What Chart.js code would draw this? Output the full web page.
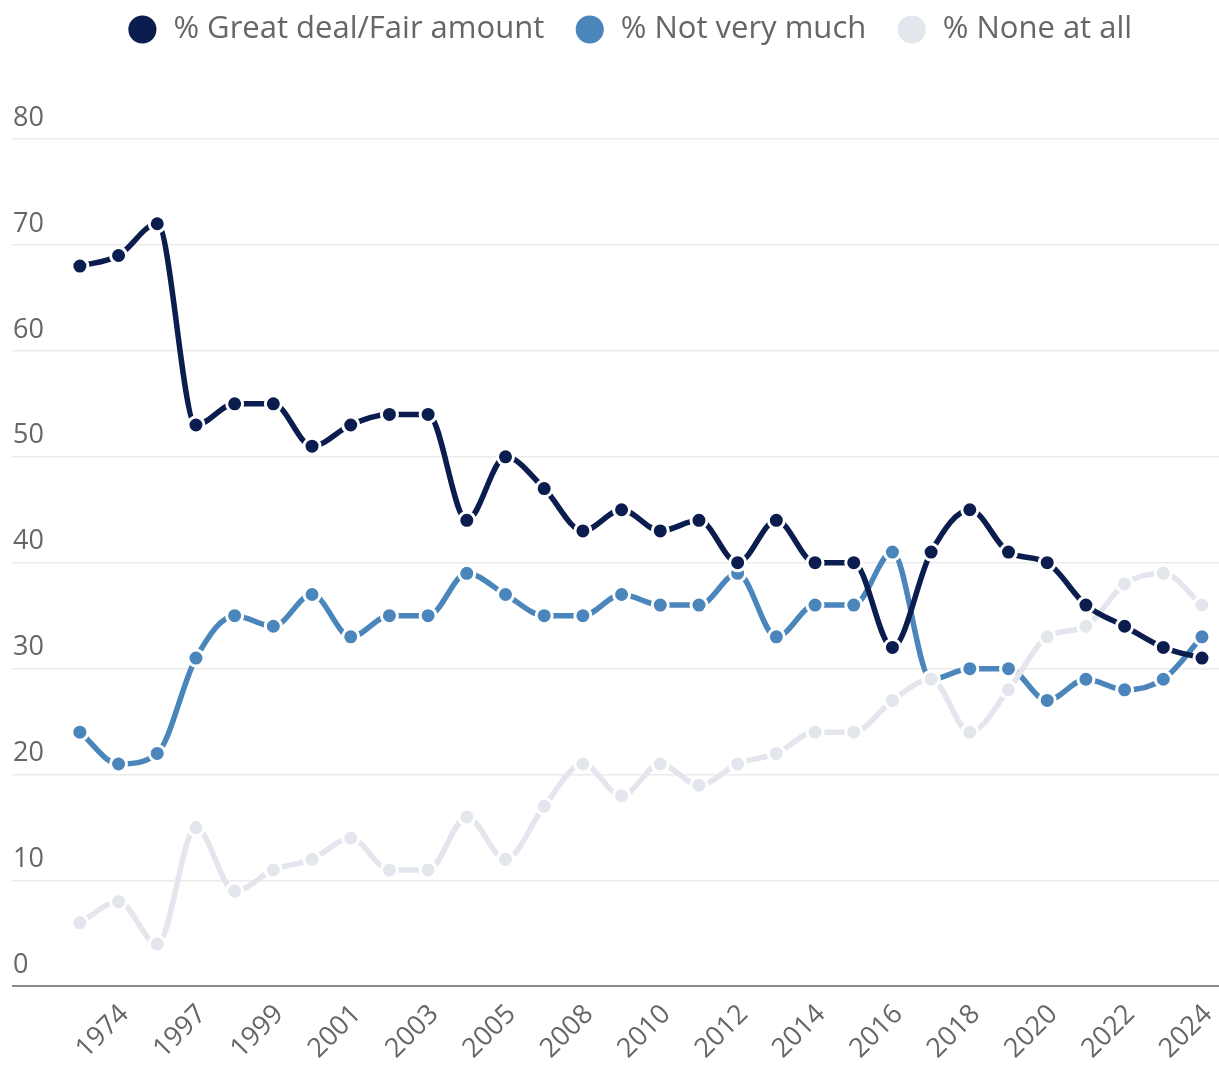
<!DOCTYPE html>
<html>
<head>
<meta charset="utf-8">
<script src="https://cdn.jsdelivr.net/npm/chart.js@4.4.1/dist/chart.umd.min.js"></script>
<style>
  html, body { margin: 0; padding: 0; background: #fff; }
  #wrap { width: 1219px; height: 1069px; position: relative; }
</style>
</head>
<body>
<div id="wrap"><canvas id="chart"></canvas></div>
<script>
// survey years (x categories)
const years = ['1972', '1974', '1976', '1997', '1998', '1999', '2000', '2001', '2002', '2003',
  '2004', '2005', '2007', '2008', '2009', '2010', '2011', '2012', '2013', '2014',
  '2015', '2016', '2017', '2018', '2019', '2020', '2021', '2022', '2023', '2024'];

const greatFair = [68, 69, 72, 53, 55, 55, 51, 53, 54, 54, 44, 50, 47, 43, 45, 43, 44, 40, 44, 40,
  40, 32, 41, 45, 41, 40, 36, 34, 32, 31];
const notVeryMuch = [24, 21, 22, 31, 35, 34, 37, 33, 35, 35, 39, 37, 35, 35, 37, 36, 36, 39, 33, 36,
  36, 41, 29, 30, 30, 27, 29, 28, 29, 33];
const noneAtAll = [6, 8, 4, 15, 9, 11, 12, 14, 11, 11, 16, 12, 17, 21, 18, 21, 19, 21, 22, 24,
  24, 27, 29, 24, 28, 33, 34, 38, 39, 36];

const yTicks = [0, 10, 20, 30, 40, 50, 60, 70, 80];

const toPoints = (arr) => arr.map((v, i) => ({ x: i, y: v }));

// make the legend block taller so the plot starts lower, nudge it right a bit
const legendGap = {
  id: 'legendGap',
  beforeInit(chart) {
    const fit = chart.legend.fit;
    chart.legend.fit = function () {
      fit.bind(chart.legend)();
      this.height += 84;
    };
  },
  afterLayout(chart) {
    chart.legend.left += 15;
    chart.legend.right += 15;
  }
};

const mkSet = (label, data, color, order) => ({
  label: label,
  data: toPoints(data),
  borderColor: color,
  backgroundColor: color,
  pointBackgroundColor: color,
  pointBorderColor: '#ffffff',
  pointBorderWidth: 3,
  pointRadius: 8,
  borderWidth: 5.5,
  cubicInterpolationMode: 'monotone',
  order: order,
});

new Chart(document.getElementById('chart'), {
  type: 'line',
  data: {
    datasets: [
      mkSet('% Great deal/Fair amount', greatFair, '#0b1c4e', 0),
      mkSet('% Not very much', notVeryMuch, '#4a86bc', 2),
      mkSet('% None at all', noneAtAll, '#e4e6ee', 1),
    ],
  },
  plugins: [legendGap],
  options: {
    responsive: true,
    maintainAspectRatio: false,
    animation: false,
    layout: { autoPadding: false, padding: { left: 10, right: 0, top: -16, bottom: 0 } },
    plugins: {
      tooltip: { enabled: false },
      legend: {
        position: 'top',
        align: 'center',
        labels: {
          usePointStyle: true,
          pointStyle: 'circle',
          boxWidth: 31,
          boxHeight: 22,
          padding: 30,
          color: '#666',
          font: { family: 'Open Sans', size: 31 },
          sort: (a, b) => a.datasetIndex - b.datasetIndex,
        },
      },
    },
    scales: {
      x: {
        type: 'linear',
        min: -1.754,
        max: 29.44,
        grid: { display: false },
        border: { display: false },
        afterBuildTicks: (scale) => {
          scale.ticks = years.map((y, i) => ({ value: i })).filter((t) => t.value % 2 === 1);
        },
        afterFit: (scale) => {
          // the rotated labels fit inside the plot width, no side padding needed
          scale.paddingLeft = 0;
          scale.paddingRight = 0;
        },
        ticks: {
          autoSkip: false,
          maxRotation: 45,
          minRotation: 45,
          padding: 4,
          labelOffset: 6,
          color: '#666',
          font: { family: 'Open Sans', size: 27 },
          callback: (v) => years[v],
        },
      },
      y: {
        min: 0,
        max: 80,
        border: { display: false },
        afterBuildTicks: (scale) => {
          scale.ticks = yTicks.map((v) => ({ value: v }));
        },
        grid: {
          drawTicks: false,
          lineWidth: (ctx) => (ctx.tick && ctx.tick.value === 0 ? 2 : 1.5),
          color: (ctx) => (ctx.tick && ctx.tick.value === 0 ? '#8a8a8a' : '#ebebeb'),
        },
        ticks: {
          mirror: true,
          padding: 1,
          labelOffset: -21,
          color: '#666',
          font: { family: 'Open Sans', size: 27 },
        },
      },
    },
  },
});
</script>
</body>
</html>
